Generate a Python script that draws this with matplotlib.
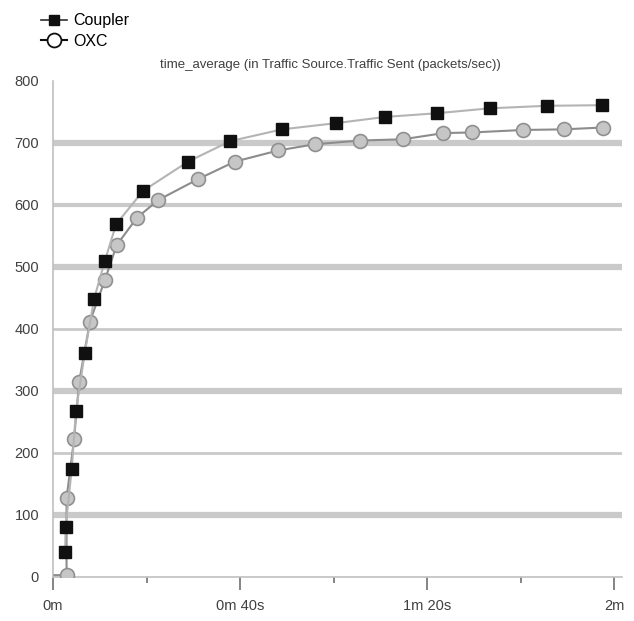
import matplotlib
matplotlib.use("Agg")
import matplotlib.pyplot as plt
from matplotlib.lines import Line2D

plt.rcParams['font.family'] = ['Liberation Sans Narrow', 'Liberation Sans', 'DejaVu Sans']

# data (time in seconds, packets/sec)
coupler_t = [2.6, 2.7, 4.0, 4.9, 6.8, 8.8, 11.1, 13.5, 19.3, 28.9, 37.9, 49.0,
             60.5, 71.0, 82.1, 93.5, 105.7, 117.4]
coupler_v = [40, 81, 174, 267, 362, 449, 510, 569, 623, 670, 703, 722,
             732, 742, 748, 756, 760, 761]
oxc_t = [0.3, 2.9, 2.9, 4.5, 5.6, 7.9, 11.1, 13.6, 17.9, 22.5, 31.1, 38.9, 48.2,
         56.0, 65.7, 74.9, 83.5, 89.6, 100.5, 109.2, 117.6]
oxc_v = [3, 3, 127, 222, 315, 412, 479, 535, 579, 608, 642, 670, 688,
         698, 704, 706, 716, 717, 721, 722, 725]

y_ticks = [0, 100, 200, 300, 400, 500, 600, 700, 800]
grid_vals = [100, 200, 300, 400, 500, 600, 700]
grid_widths = [4.5, 2, 4.5, 2, 4.5, 3, 4.5]
x_major = [0, 40, 80, 120]
x_major_labels = ["0m", "0m 40s", "1m 20s", "2m"]
x_minor = [20, 60, 100]

title = "time_average (in Traffic Source.Traffic Sent (packets/sec))"

fig = plt.figure(figsize=(6.34, 6.21), dpi=100)
ax = fig.add_axes([53/634, 1-577/621, (622-53)/634, (577-81)/621])

# grid bands
for v, w in zip(grid_vals, grid_widths):
    ax.axhline(v, color='#cacaca', lw=w, zorder=1)

ax.plot(oxc_t, oxc_v, '-', color='#8c8c8c', lw=1.5, marker='o', ms=10,
        mfc='#c6c6c6', mec='#909090', mew=1.2, markevery=list(range(1, len(oxc_t))),
        zorder=3)
ax.plot(coupler_t, coupler_v, '-', color='#b4b4b4', lw=1.5, marker='s', ms=8,
        mfc='#101010', mec='#101010', zorder=4)

ax.set_xlim(0, 121.7)
ax.set_ylim(0, 800)
ax.set_yticks(y_ticks)
ax.set_yticklabels([str(v) for v in y_ticks])
ax.set_xticks(x_major)
ax.set_xticklabels(x_major_labels)
ax.set_xticks(x_minor, minor=True)

for s in ['top', 'right']:
    ax.spines[s].set_visible(False)
for s in ['left', 'bottom']:
    ax.spines[s].set_color('#c0c0c0')
    ax.spines[s].set_linewidth(1.2)

ax.tick_params(axis='y', length=0, pad=10, labelsize=10.5, labelcolor='#404040')
ax.tick_params(axis='x', which='major', length=9, width=1.2, color='#707070',
               direction='out', pad=7, labelsize=10.5, labelcolor='#404040')
ax.tick_params(axis='x', which='minor', length=4, width=1.2, color='#707070',
               direction='out')

fig.text(330/634, 1-65/621, title, ha='center', va='center', fontsize=9.5,
         color='#404040')

handles = [
    Line2D([], [], color='#303030', lw=1.2, marker='s', ms=7, mfc='#101010', mec='#101010'),
    Line2D([], [], color='#101010', lw=1.5, marker='o', ms=10, mfc='white', mec='#101010', mew=1.3),
]
fig.legend(handles, ["Coupler", "OXC"], loc='upper left',
           bbox_to_anchor=(30/634, 1-2/621), frameon=False, fontsize=11.5,
           handlelength=1.6, handletextpad=0.4, labelspacing=0.35, borderpad=0.2)

plt.savefig("out.png", dpi=100)
plt.close()
